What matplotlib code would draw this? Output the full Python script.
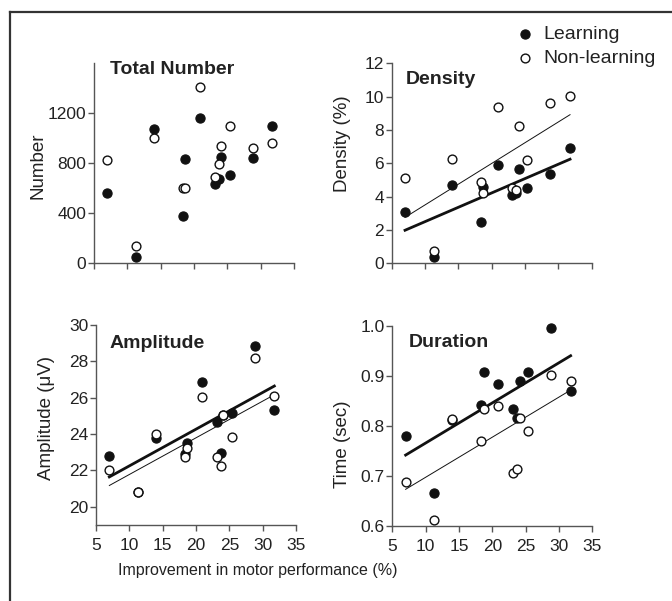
import matplotlib
matplotlib.use('Agg')
import matplotlib.pyplot as plt
import numpy as np
from matplotlib.lines import Line2D

plt.rcParams['font.family'] = ['Liberation Sans', 'DejaVu Sans']

# improvement in motor performance (%), one value per subject
improvement = [7.0, 11.3, 14.0, 18.35, 18.7, 20.9, 23.1, 23.7, 24.1, 25.35, 28.8, 31.75]

number_learn = [560, 53, 1077, 376, 832, 1160, 632, 677, 851, 707, 843, 1101]
number_non = [829, 141, 1003, 605, 600, 1413, 688, 792, 936, 1099, 923, 965]

density_learn = [3.06, 0.38, 4.72, 2.46, 4.6, 5.9, 4.1, 4.2, 5.66, 4.52, 5.36, 6.92]
density_non = [5.12, 0.76, 6.26, 4.86, 4.24, 9.36, 4.54, 4.42, 8.26, 6.18, 9.62, 10.04]

amp_learn = [22.79, 20.8, 23.76, 22.92, 23.52, 26.86, 24.64, 22.97, 25.06, 25.16, 28.84, 25.34]
amp_non = [22.0, 20.79, 23.98, 22.73, 23.23, 26.06, 22.75, 22.24, 25.06, 23.83, 28.2, 26.09]

dur_learn = [0.78, 0.666, 0.812, 0.842, 0.909, 0.884, 0.834, 0.817, 0.891, 0.909, 0.996, 0.871]
dur_non = [0.689, 0.613, 0.815, 0.771, 0.835, 0.841, 0.707, 0.715, 0.817, 0.791, 0.903, 0.891]

W, H = 672.0, 601.0
fig = plt.figure(figsize=(6.72, 6.01), dpi=100)

# frame around the figure (only left and top edges visible)
fig.add_artist(Line2D([10/W, 10/W], [0, 1-12/H], transform=fig.transFigure, color='#333333', lw=1.6))
fig.add_artist(Line2D([10/W, 1], [1-12/H, 1-12/H], transform=fig.transFigure, color='#333333', lw=1.6))

def make_ax(left, top):
    ax = fig.add_axes([left/W, 1-(top+200)/H, 200/W, 200/H])
    for s in ['top', 'right']:
        ax.spines[s].set_visible(False)
    for s in ['left', 'bottom']:
        ax.spines[s].set_color('#555555')
        ax.spines[s].set_linewidth(1.0)
    ax.tick_params(axis='both', direction='out', length=4, width=1.0, color='#555555',
                   labelsize=12.5, labelcolor='#222222')
    ax.tick_params(axis='y', pad=1.5)
    ax.tick_params(axis='x', pad=5.5)
    ax.set_xlim(5, 35)
    ax.set_xticks([5, 10, 15, 20, 25, 30, 35])
    return ax

def draw(ax, yl, yn, fit=True):
    x = np.array(improvement)
    ax.scatter(x, yl, s=44, facecolor='#111111', edgecolor='#111111', lw=0.8, zorder=3,
               label='Learning', clip_on=False)
    ax.scatter(x, yn, s=40, facecolor='white', edgecolor='#111111', lw=1.0, zorder=4,
               label='Non-learning', clip_on=False)
    if fit:
        xs = np.array([x.min(), x.max()])
        p = np.polyfit(x, yl, 1)
        ax.plot(xs, np.polyval(p, xs), color='#111111', lw=2.0, zorder=2)
        p = np.polyfit(x, yn, 1)
        ax.plot(xs, np.polyval(p, xs), color='#111111', lw=0.7, zorder=2)

ax1 = make_ax(94, 63.3)
draw(ax1, number_learn, number_non, fit=False)
ax1.set_ylim(0, 1600)
ax1.set_yticks([0, 400, 800, 1200])
ax1.tick_params(axis='x', labelbottom=False)
ax1.set_ylabel('Number', fontsize=13.5, color='#222222')
ax1.yaxis.set_label_coords(-0.24, 0.49)
ax1.text(0.08, 0.967, 'Total Number', transform=ax1.transAxes, fontsize=14,
         fontweight='bold', va='center', ha='left', color='#222222')

ax2 = make_ax(391.7, 63.3)
draw(ax2, density_learn, density_non)
ax2.set_ylim(0, 12)
ax2.set_yticks([0, 2, 4, 6, 8, 10, 12])
ax2.tick_params(axis='x', labelbottom=False)
ax2.set_ylabel('Density (%)', fontsize=13.5, color='#222222')
ax2.yaxis.set_label_coords(-0.205, 0.6)
ax2.text(0.0715, 0.92, 'Density', transform=ax2.transAxes, fontsize=14,
         fontweight='bold', va='center', ha='left', color='#222222')

ax3 = make_ax(96, 325)
draw(ax3, amp_learn, amp_non)
ax3.set_ylim(19, 30)
ax3.set_yticks([20, 22, 24, 26, 28, 30])
ax3.set_ylabel('Amplitude (\u03bcV)', fontsize=13.5, color='#222222')
ax3.yaxis.set_label_coords(-0.205, 0.533)
ax3.text(0.07, 0.91, 'Amplitude', transform=ax3.transAxes, fontsize=14,
         fontweight='bold', va='center', ha='left', color='#222222')

ax4 = make_ax(392.3, 326)
draw(ax4, dur_learn, dur_non)
ax4.set_ylim(0.6, 1.0)
ax4.set_yticks([0.6, 0.7, 0.8, 0.9, 1.0])
ax4.set_yticklabels(['0.6', '0.7', '0.8', '0.9', '1.0'])
ax4.set_ylabel('Time (sec)', fontsize=13.5, color='#222222')
ax4.yaxis.set_label_coords(-0.205, 0.41)
ax4.text(0.0835, 0.918, 'Duration', transform=ax4.transAxes, fontsize=14,
         fontweight='bold', va='center', ha='left', color='#222222')

fig.text(258/W, 1-570/H, 'Improvement in motor performance (%)', fontsize=11.5,
         ha='center', va='center', color='#222222')

h, l = ax2.get_legend_handles_labels()
fig.legend(h, l, loc='upper left', bbox_to_anchor=(515/W, 1-25/H), frameon=False,
           fontsize=14, handlelength=1.0, handletextpad=0.45, labelspacing=0.35,
           borderpad=0, borderaxespad=0, labelcolor='#222222')

fig.savefig('out.png', dpi=100)
